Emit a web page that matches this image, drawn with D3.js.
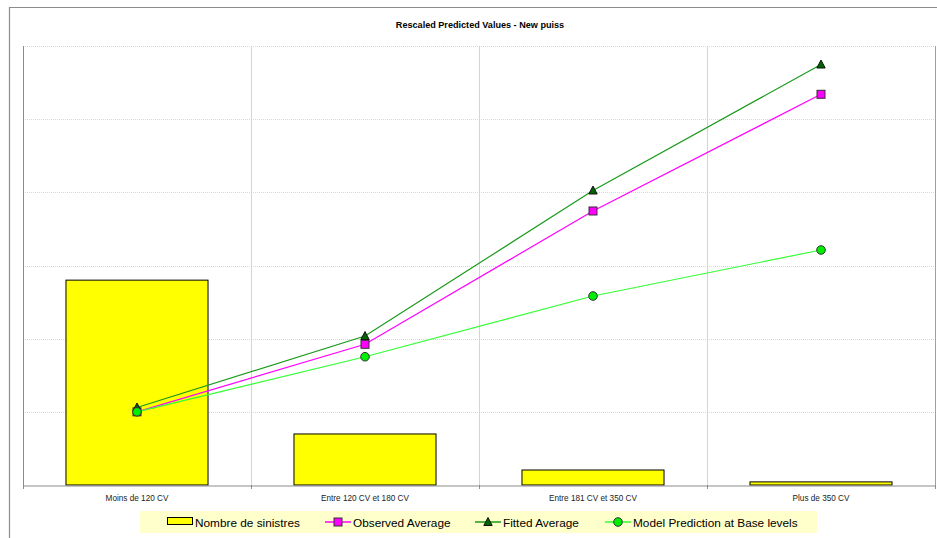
<!DOCTYPE html>
<html>
<head>
<meta charset="utf-8">
<script src="https://cdn.jsdelivr.net/npm/d3@7"></script>
<style>
  html, body { margin: 0; padding: 0; background: #fff; }
  svg { display: block; }
</style>
</head>
<body>
<svg id="chart" width="937" height="538"></svg>
<script>
const title = "Rescaled Predicted Values - New puiss";
const categories = ["Moins de 120 CV", "Entre 120 CV et 180 CV", "Entre 181 CV et 350 CV", "Plus de 350 CV"];
const nombreSinistres = [5600, 1395, 410, 85];
const observedAverage = [1.0, 1.923, 3.745, 5.34];
const fittedAverage = [1.059, 2.036, 4.025, 5.747];
const modelPrediction = [1.0, 1.753, 2.583, 3.212];
const primaryTicks = [0, 1, 2, 3, 4, 5, 6];
const secondaryMax = 12000;
const legendLabels = ["Nombre de sinistres", "Observed Average", "Fitted Average", "Model Prediction at Base levels"];

const svg = d3.select("#chart");
const plot = { left: 23, top: 46, right: 935, bottom: 485 };

// outer chart border
svg.append("path")
  .attr("d", `M9.5,538 L9.5,7.5 L937,7.5`)
  .attr("fill", "none").attr("stroke", "#8c8c8c").attr("stroke-width", 1.2);

// title
svg.append("text")
  .attr("x", 480).attr("y", 27.5)
  .attr("text-anchor", "middle")
  .attr("font-family", "Liberation Sans, Arial, sans-serif")
  .attr("font-size", 9.1).attr("font-weight", "bold")
  .attr("fill", "#000")
  .text(title);

const x = d3.scaleBand().domain(categories).range([plot.left, plot.right]).padding(0);
const y = d3.scaleLinear().domain([0, 6]).range([plot.bottom, plot.top]);
const y2 = d3.scaleLinear().domain([0, secondaryMax]).range([plot.bottom, plot.top]);

// horizontal gridlines
svg.append("g").selectAll("line").data(primaryTicks.slice(1)).join("line")
  .attr("x1", plot.left).attr("x2", plot.right)
  .attr("y1", d => Math.round(y(d)) + 0.5).attr("y2", d => Math.round(y(d)) + 0.5)
  .attr("stroke", "#d8d8d8").attr("stroke-width", 1).attr("stroke-dasharray", "1,1");

// vertical gridlines at category boundaries
const bounds = categories.slice(1).map(c => x(c));
svg.append("g").selectAll("line").data(bounds).join("line")
  .attr("x1", d => Math.round(d) + 0.5).attr("x2", d => Math.round(d) + 0.5)
  .attr("y1", plot.top).attr("y2", plot.bottom)
  .attr("stroke", "#d4d4d4").attr("stroke-width", 1);

// right border
svg.append("line")
  .attr("x1", plot.right + 0.5).attr("x2", plot.right + 0.5)
  .attr("y1", plot.top).attr("y2", plot.bottom)
  .attr("stroke", "#a0a0a0");

// left axis line
svg.append("line")
  .attr("x1", plot.left + 0.5).attr("x2", plot.left + 0.5)
  .attr("y1", plot.top).attr("y2", plot.bottom)
  .attr("stroke", "#8c8c8c");

// bars
const barW = x.bandwidth() * 0.623;
svg.append("g").selectAll("rect").data(categories).join("rect")
  .attr("x", (d) => x(d) + (x.bandwidth() - barW) / 2)
  .attr("y", (d, i) => y2(nombreSinistres[i]))
  .attr("width", barW)
  .attr("height", (d, i) => plot.bottom - y2(nombreSinistres[i]))
  .attr("fill", "#ffff00").attr("stroke", "#000").attr("stroke-width", 1);

// bottom axis
const xAxis = d3.axisBottom(x).tickSize(0).tickSizeOuter(0);
const gx = svg.append("g").attr("transform", `translate(0,${plot.bottom + 0.5})`).call(xAxis);
gx.select(".domain").attr("stroke", "#8c8c8c");
gx.selectAll("text")
  .attr("dy", 0).attr("y", 15)
  .attr("font-family", "Liberation Sans, Arial, sans-serif")
  .attr("font-size", 8.2).attr("fill", "#222");
// tick marks at boundaries
svg.append("g").selectAll("line").data([plot.left].concat(bounds).concat([plot.right])).join("line")
  .attr("x1", d => Math.round(d) + 0.5).attr("x2", d => Math.round(d) + 0.5)
  .attr("y1", plot.bottom).attr("y2", plot.bottom + 4)
  .attr("stroke", "#8c8c8c");

const cx = d => x(d) + x.bandwidth() / 2;
const line = vals => d3.line().x((d, i) => cx(categories[i])).y((d) => y(d))(vals);

const series = [
  { vals: observedAverage, color: "#ff00ff", marker: "square", fill: "#ff00ff" },
  { vals: fittedAverage, color: "#1a9a1a", marker: "triangle", fill: "#006400" },
  { vals: modelPrediction, color: "#33ff33", marker: "circle", fill: "#00ee00" }
];

function drawMarker(g, type, px, py, fill) {
  if (type === "square") {
    g.append("rect").attr("x", px - 4).attr("y", py - 4).attr("width", 8).attr("height", 8)
      .attr("fill", fill).attr("stroke", "#333").attr("stroke-width", 1);
  } else if (type === "triangle") {
    g.append("path").attr("d", `M${px},${py - 4.5} L${px + 4.2},${py + 3.5} L${px - 4.2},${py + 3.5} Z`)
      .attr("fill", fill).attr("stroke", "#111").attr("stroke-width", 1);
  } else {
    g.append("circle").attr("cx", px).attr("cy", py).attr("r", 4.3)
      .attr("fill", fill).attr("stroke", "#333").attr("stroke-width", 1);
  }
}

series.forEach(s => {
  const g = svg.append("g");
  g.append("path").attr("d", line(s.vals)).attr("fill", "none")
    .attr("stroke", s.color).attr("stroke-width", 1.2);
  s.vals.forEach((v, i) => drawMarker(g, s.marker, cx(categories[i]), y(v), s.fill));
});

// legend
const lg = svg.append("g");
lg.append("rect").attr("x", 140).attr("y", 511).attr("width", 677).attr("height", 22)
  .attr("fill", "#ffffcc");
const legFont = "Liberation Sans, Arial, sans-serif";
const textY = 526.5;
const legSize = 11.8;
// bar swatch
lg.append("rect").attr("x", 167.5).attr("y", 517.5).attr("width", 25).attr("height", 7)
  .attr("fill", "#ffff00").attr("stroke", "#000");
lg.append("text").attr("x", 195).attr("y", textY).attr("font-family", legFont)
  .attr("font-size", legSize).text(legendLabels[0]);
const legItems = [
  { x0: 325, tx: 353, s: series[0], label: legendLabels[1] },
  { x0: 475, tx: 503, s: series[1], label: legendLabels[2] },
  { x0: 605, tx: 633, s: series[2], label: legendLabels[3] }
];
legItems.forEach(it => {
  lg.append("line").attr("x1", it.x0).attr("x2", it.x0 + 26).attr("y1", 522).attr("y2", 522)
    .attr("stroke", it.s.color).attr("stroke-width", 1.5);
  drawMarker(lg, it.s.marker, it.x0 + 13, 522, it.s.fill);
  lg.append("text").attr("x", it.tx).attr("y", textY).attr("font-family", legFont)
    .attr("font-size", legSize).text(it.label);
});
</script>
</body>
</html>
